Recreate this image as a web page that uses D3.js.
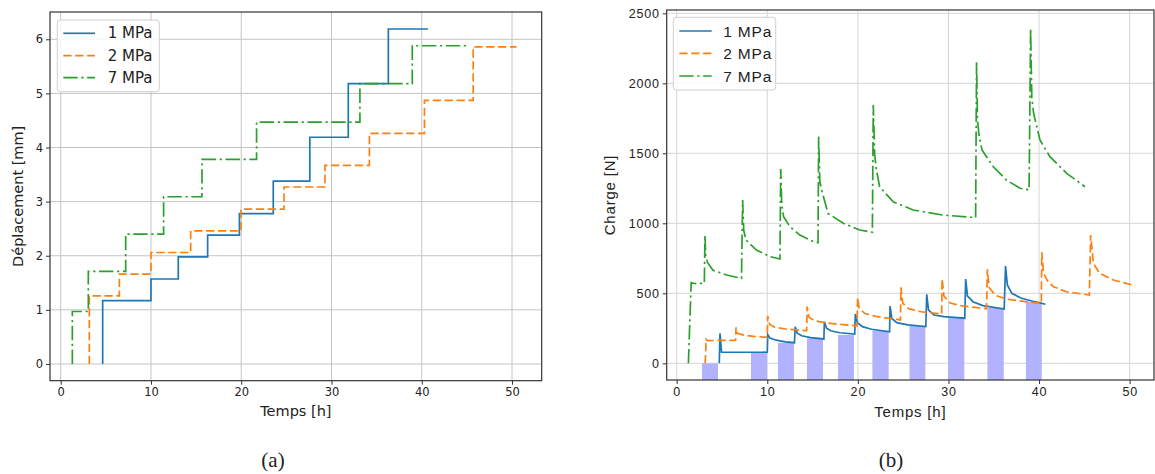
<!DOCTYPE html>
<html><head><meta charset="utf-8">
<script src="https://cdn.jsdelivr.net/npm/d3@7"></script>
<style>
html,body{margin:0;padding:0;background:#fff;}
svg{display:block;}
</style></head>
<body>
<svg id="c" width="1155" height="474"></svg>
<script>
// ---------- DATA ----------
const seriesNames = ["1 MPa", "2 MPa", "7 MPa"];
const seriesColors = ["#1f77b4", "#ff7f0e", "#2ca02c"];

// (a) Déplacement [mm] vs Temps [h] — step starts [t, d]
const dep1 = [[4.65,0],[4.65,1.17],[10.0,1.57],[13.03,1.98],[16.28,2.38],[19.8,2.78],[23.55,3.38],[27.6,4.19],[31.86,5.18],[36.3,6.19],[40.7,6.19]];
const dep2 = [[3.17,0],[3.17,1.26],[6.5,1.66],[10.0,2.06],[14.4,2.46],[19.97,2.86],[24.74,3.27],[29.28,3.67],[34.2,4.26],[40.3,4.87],[45.7,5.86],[50.5,5.86]];
const dep7 = [[1.29,0],[1.29,0.97],[3.06,1.71],[7.2,2.40],[11.4,3.09],[15.65,3.78],[21.7,4.47],[33.15,5.18],[38.95,5.88],[45.3,5.88]];

// (b) Charge [N] vs Temps [h]
const charge1 = [[4.70,0],[4.78,214],[4.95,80],[10.0,79],
 [10.05,205],[10.3,180],[11.0,165],[12.0,153],[13.0,147],
 [13.08,261],[13.3,215],[13.8,197],[14.8,184],[16.25,174],
 [16.3,297],[16.55,250],[17.0,232],[18.0,218],[19.65,208],
 [19.72,352],[19.95,290],[20.5,262],[21.5,243],[23.5,225],
 [23.55,409],[23.75,320],[24.3,290],[25.5,274],[27.5,263],
 [27.6,493],[27.8,380],[28.4,345],[29.5,333],[31.8,322],
 [31.9,602],[32.1,480],[32.7,440],[33.8,412],[36.15,388],
 [36.3,695],[36.5,560],[37.0,500],[38.0,466],[39.5,440],[40.7,422]];
const charge2 = [[3.15,0],[3.25,171],[3.4,162],[6.5,165],
 [6.55,257],[6.7,215],[7.5,200],[8.5,192],[10.0,186],
 [10.05,338],[10.25,280],[10.8,258],[12.0,245],[14.35,233],
 [14.4,404],[14.6,330],[15.2,305],[16.5,288],[18.0,278],[19.9,268],
 [19.97,469],[20.15,390],[20.8,355],[22.0,335],[24.7,310],
 [24.75,543],[24.95,430],[25.6,390],[27.0,368],[29.25,352],
 [29.3,602],[29.5,480],[30.2,430],[31.5,410],[34.2,390],
 [34.3,671],[34.5,540],[35.2,485],[36.5,458],[38.5,440],[40.25,428],
 [40.3,793],[40.5,643],[41.0,580],[41.6,547],[43.0,511],[45.55,488],
 [45.7,916],[46.0,714],[46.7,643],[48.2,595],[50.6,554]];
const charge7 = [[1.29,0],[1.45,300],[1.6,576],[1.9,570],[3.05,571],
 [3.12,916],[3.2,770],[3.4,720],[4.0,665],[5.5,631],[7.15,607],
 [7.28,1166],[7.4,950],[7.65,880],[8.8,809],[10.3,762],[11.4,745],
 [11.48,1388],[11.6,1130],[11.8,1047],[12.5,976],[13.6,916],[15.08,869],[15.6,861],
 [15.67,1619],[15.8,1300],[16.0,1238],[16.7,1071],[18.4,1000],[20.2,952],[21.6,936],
 [21.7,1845],[21.85,1500],[22.0,1400],[22.4,1261],[23.9,1154],[26.1,1095],[29.4,1059],[33.0,1040],
 [33.1,2150],[33.2,1750],[33.35,1640],[33.7,1524],[34.95,1404],[36.4,1309],[37.9,1250],[38.9,1238],
 [39.07,2393],[39.2,1900],[39.4,1786],[40.1,1595],[41.2,1476],[43.05,1357],[45.07,1261]];

// shaded intervals (b)
const barStart = [2.79, 8.2, 11.18, 14.38, 17.8, 21.6, 25.7, 29.95, 34.3, 38.55];
const barEnd   = [4.56, 9.97, 12.95, 16.15, 19.57, 23.4, 27.45, 31.75, 36.1, 40.3];
const barTop   = [0, 79, 147, 178, 202, 233, 266, 326, 397, 440];

// ticks & limits
const xTicks = [0, 10, 20, 30, 40, 50];
const yTicksA = [0, 1, 2, 3, 4, 5, 6];
const yTicksB = [0, 500, 1000, 1500, 2000, 2500];
const xLimA = [-1.185, 53.29], yLimA = [-0.309, 6.504];
const xLimB = [-1.104, 52.69], yLimB = [-119.3, 2523.6];

// ---------- DRAW ----------
const svg = d3.select("#c");
const dashes = [null, "8.3,3.6", "14.4,3.6,2.25,3.6"];

function panel(opt) {
  const g = svg.append("g");
  const x = d3.scaleLinear().domain(opt.xLim).range([opt.L, opt.R]);
  const y = d3.scaleLinear().domain(opt.yLim).range([opt.B, opt.T]);
  const clipId = "clip" + opt.id;
  svg.append("clipPath").attr("id", clipId).append("rect")
    .attr("x", opt.L).attr("y", opt.T).attr("width", opt.R - opt.L).attr("height", opt.B - opt.T);

  // grid
  const grid = g.append("g");
  opt.xTicks.forEach(v => grid.append("line").attr("x1", x(v)).attr("x2", x(v)).attr("y1", opt.T).attr("y2", opt.B)
    .attr("stroke", opt.gridColor).attr("stroke-width", opt.gridW));
  opt.yTicks.forEach(v => grid.append("line").attr("y1", y(v)).attr("y2", y(v)).attr("x1", opt.L).attr("x2", opt.R)
    .attr("stroke", opt.gridColor).attr("stroke-width", opt.gridW));

  const plot = g.append("g").attr("clip-path", `url(#${clipId})`);
  if (opt.bars) {
    opt.bars.forEach(b => plot.append("rect")
      .attr("x", x(b.s)).attr("width", x(b.e) - x(b.s))
      .attr("y", y(b.top)).attr("height", y(opt.yLim[0]) - y(b.top))
      .attr("fill", "rgb(178,178,255)"));
  }
  const line = d3.line().x(d => x(d[0])).y(d => y(d[1])).curve(opt.curve);
  opt.series.forEach((s, i) => plot.append("path").datum(s)
    .attr("d", line).attr("fill", "none").attr("stroke", seriesColors[i])
    .attr("stroke-width", 1.7).attr("stroke-dasharray", dashes[i]).attr("stroke-linejoin", "miter"));

  // axes
  const ax = d3.axisBottom(x).tickValues(opt.xTicks).tickSize(4).tickPadding(3).tickFormat(d3.format("d"));
  const ay = d3.axisLeft(y).tickValues(opt.yTicks).tickSize(4).tickPadding(3).tickFormat(d3.format("d"));
  const gx = g.append("g").attr("transform", `translate(0,${opt.B})`).call(ax);
  const gy = g.append("g").attr("transform", `translate(${opt.L},0)`).call(ay);
  [gx, gy].forEach(a => {
    a.select(".domain").remove();
    a.selectAll("line").attr("stroke", "#333").attr("stroke-width", 1);
    a.selectAll("text").attr("fill", "#222").style("font-family", opt.font).style("font-size", opt.tickFs + "px")
      .style("letter-spacing", opt.ls + "px");
  });
  // frame
  g.append("rect").attr("x", opt.L).attr("y", opt.T).attr("width", opt.R - opt.L).attr("height", opt.B - opt.T)
    .attr("fill", "none").attr("stroke", "#333").attr("stroke-width", 1.2);

  // labels
  g.append("text").attr("x", (opt.L + opt.R) / 2).attr("y", opt.xLabY).attr("text-anchor", "middle")
    .attr("dominant-baseline", "middle").style("font-family", opt.font).style("font-size", opt.labFs + "px")
    .style("letter-spacing", opt.ls + "px").attr("fill", "#222").text(opt.xLabel);
  g.append("text").attr("transform", `translate(${opt.yLabX},${(opt.T + opt.B) / 2}) rotate(-90)`)
    .attr("text-anchor", "middle").attr("dominant-baseline", "middle")
    .style("font-family", opt.font).style("font-size", opt.labFs + "px").style("letter-spacing", opt.ls + "px")
    .attr("fill", "#222").text(opt.yLabel);

  // legend
  const lg = g.append("g");
  lg.append("rect").attr("x", opt.leg.x).attr("y", opt.leg.y).attr("width", opt.leg.w).attr("height", opt.leg.h)
    .attr("rx", 3).attr("fill", "rgba(255,255,255,0.85)").attr("stroke", "#d0d0d0").attr("stroke-width", 1);
  seriesNames.forEach((n, i) => {
    const yy = opt.leg.rows[i];
    lg.append("line").attr("x1", opt.leg.lx1).attr("x2", opt.leg.lx2).attr("y1", yy).attr("y2", yy)
      .attr("stroke", seriesColors[i]).attr("stroke-width", 1.7).attr("stroke-dasharray", dashes[i]);
    lg.append("text").attr("x", opt.leg.tx).attr("y", yy).attr("dominant-baseline", "central")
      .style("font-family", opt.font).style("font-size", opt.legFs + "px").style("letter-spacing", opt.ls + "px")
      .attr("fill", "#222").text(n);
  });
  // caption
  svg.append("text").attr("x", opt.capX).attr("y", 462).attr("text-anchor", "middle").attr("dominant-baseline", "middle")
    .style("font-family", "'Liberation Serif', serif").style("font-size", "21px").attr("fill", "#222").text(opt.cap);
}

panel({
  id: "a", L: 50, R: 541.7, T: 12, B: 380.7, xLim: xLimA, yLim: yLimA,
  xTicks: xTicks, yTicks: yTicksA, gridColor: "#c4c4c4", gridW: 1,
  series: [dep1, dep2, dep7], curve: d3.curveStepAfter,
  font: "'DejaVu Sans', sans-serif", tickFs: 11.5, labFs: 14.5, legFs: 15, ls: 0,
  xLabel: "Temps [h]", yLabel: "Déplacement [mm]", xLabY: 412, yLabX: 19,
  leg: { x: 57.3, y: 20, w: 102, h: 71.7, rows: [33.3, 55.7, 77.7], lx1: 63.3, lx2: 95, tx: 107.7 },
  cap: "(a)", capX: 273
});

panel({
  id: "b", L: 666.7, R: 1154, T: 10, B: 380, xLim: xLimB, yLim: yLimB,
  xTicks: xTicks, yTicks: yTicksB, gridColor: "#d6d6d6", gridW: 1,
  series: [charge1, charge2, charge7], curve: d3.curveLinear,
  bars: barStart.map((s, i) => ({ s: s, e: barEnd[i], top: barTop[i] })),
  font: "'Liberation Sans', Arial, sans-serif", tickFs: 12.5, labFs: 15, legFs: 15.5, ls: 0.8,
  xLabel: "Temps [h]", yLabel: "Charge [N]", xLabY: 413, yLabX: 611,
  leg: { x: 673.3, y: 17.3, w: 102.4, h: 72.7, rows: [31, 53.3, 76], lx1: 679.3, lx2: 711.7, tx: 723.3 },
  cap: "(b)", capX: 891
});
</script>
</body></html>
